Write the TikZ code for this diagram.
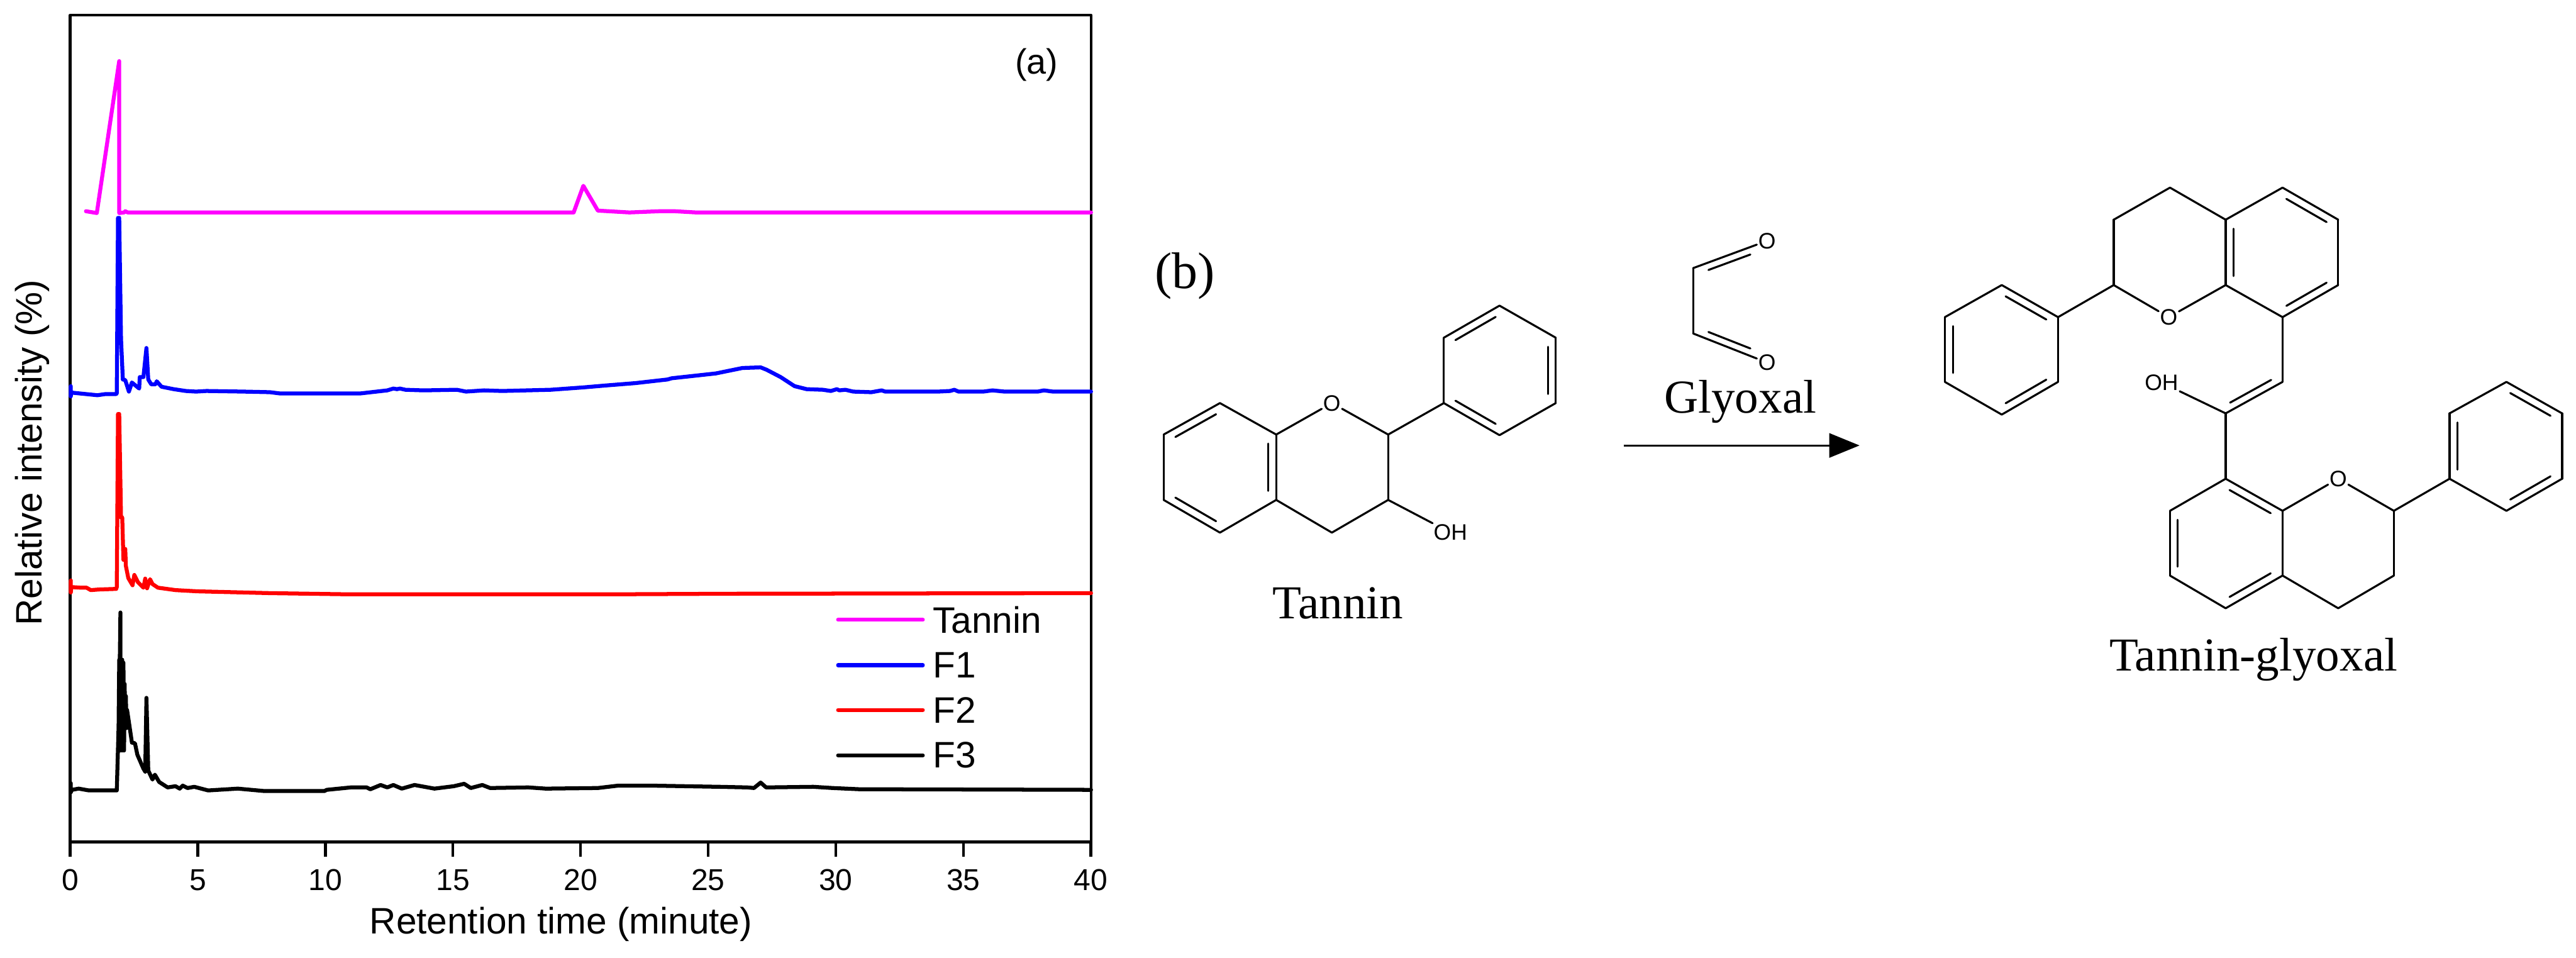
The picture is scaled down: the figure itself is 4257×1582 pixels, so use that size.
\documentclass[tikz,border=0pt]{standalone}
\usepackage{fontspec}
\usepackage{xcolor}
\usetikzlibrary{calc,arrows.meta}
\setmainfont{Liberation Serif}
\setsansfont{Liberation Sans}

\begin{document}
\begin{tikzpicture}[x=0.01cm,y=-0.01cm,
  curve/.style={line width=0.065cm,line join=round,line cap=round},
  axis/.style={line width=0.045cm,line join=round},
  bond/.style={line width=0.033cm,line join=round,line cap=round},
  atom/.style={font=\sffamily\fontsize{10.5}{12}\selectfont,inner sep=0.5pt},
  plotlabel/.style={font=\sffamily\fontsize{17.3}{20}\selectfont},
  ticklabel/.style={font=\sffamily\fontsize{14.2}{17}\selectfont,anchor=base},
  chemlabel/.style={font=\fontsize{22.2}{26}\selectfont,anchor=base}]
\definecolor{fuchsia}{HTML}{FF00FF}
\definecolor{fblue}{HTML}{0000FF}
\definecolor{fred}{HTML}{FF0000}
\definecolor{fblack}{HTML}{000000}
\useasboundingbox (0,0) rectangle (4257,1582);

\draw[axis] (116,25) rectangle (1803,1391);
\foreach \tk in {0,5,...,40}
  {\coordinate (t\tk) at (116+42.17*\tk,1391);
   \coordinate (e\tk) at (116+42.17*\tk,1416);
   \draw[axis] (t\tk) -- (e\tk);
   \node [ticklabel] (n\tk) at (116+42.17*\tk,1471) {\tk};}
\node [plotlabel,anchor=base] (xlab) at (927,1543) {Retention time (minute)};
\node [plotlabel,anchor=base,rotate=90] (ylab) at (69,748) {Relative intensity (\%)};
\node [plotlabel,font=\sffamily\fontsize{16.5}{19}\selectfont] (panela) at (1713,107) {(a)};

\draw[curve,fuchsia] plot coordinates {(142,349) (160,352) (197,101) (197,352) (205,351) (207,349) (211,351)
  (948,351) (964,307) (988,348) (1040,351) (1090,349) (1115,349) (1150,351) (1803,351)};
\draw[curve,fblue] plot coordinates {(117,638) (117,655) (118,648) (121,649) (161,653) (175,651) (192,651) (193,650)
  (195,360) (197,360) (200,560) (203,627) (207,628) (213,647) (218,632) (230,642) (231,623) (237,623)
  (242,575) (245,627) (250,635) (257,635) (259,630) (267,639) (287,643) (307,646) (324,647) (341,646) (402,647)
  (446,648) (462,650) (596,650) (640,645) (650,642) (656,643) (661,642) (670,644) (700,645) (755,644) (770,647)
  (800,645) (830,646) (910,644) (965,640) (1000,637) (1050,633) (1103,627) (1110,625) (1183,617) (1227,608)
  (1257,607) (1267,611) (1290,623) (1313,638) (1333,643) (1360,644) (1373,646) (1383,643) (1387,645) (1397,644)
  (1410,647) (1440,648) (1457,645) (1463,647) (1550,647) (1570,646) (1577,644) (1584,647) (1625,647) (1640,645)
  (1660,647) (1715,647) (1725,645) (1740,647) (1803,647)};
\draw[curve,fred] plot coordinates {(117,959) (117,979) (118,970) (134,971) (143,971) (150,975) (163,974) (192,973)
  (193,970) (195,684) (197,684) (200,855) (202,855) (204,925) (207,907) (208,935) (212,955) (219,967) (222,950)
  (228,962) (237,971) (240,956) (243,972) (248,957) (252,965) (261,971) (290,975) (326,977) (446,980) (580,982)
  (700,982) (1000,982) (1200,981) (1803,980)};
\draw[curve,fblack] plot coordinates {(117,1294) (117,1309) (119,1305) (130,1303) (147,1306) (193,1306) (196,1200)
  (197,1090) (197,1240) (198,1090) (199,1012) (199,1240) (200,1090) (201,1240) (202,1090) (203,1240) (204,1095)
  (205,1240) (206,1130) (207,1203) (208,1150) (209,1203) (210,1173) (213,1193)
  (218,1227) (223,1228) (227,1247) (237,1270) (240,1275) (242,1153) (245,1273) (252,1288) (256,1280) (263,1292)
  (277,1301) (290,1299) (297,1303) (302,1298) (310,1302) (321,1300) (344,1306) (393,1303) (437,1307) (536,1307)
  (540,1305) (580,1301) (606,1301) (612,1304) (629,1297) (640,1301) (650,1297) (664,1303) (685,1297) (718,1303)
  (750,1299) (767,1295) (778,1302) (797,1297) (810,1302) (873,1301) (902,1303) (988,1302) (1022,1298) (1074,1298)
  (1189,1300) (1235,1301) (1246,1302) (1257,1293) (1266,1301) (1344,1300) (1376,1302) (1420,1304) (1803,1305)};

\foreach \crlr/\lab/\pos in {fuchsia/Tannin/1024,fblue/F1/1099,fred/F2/1173,fblack/F3/1248}
  {\coordinate (l\pos) at (1385,\pos);
   \node [plotlabel,anchor=west,inner sep=0.16cm] (s\pos) at (1525,\pos) {\lab};
   \draw[curve,\crlr] (l\pos) -- (s\pos.west);}

\node [chemlabel,font=\fontsize{24.2}{28}\selectfont] (panelb) at (1958,477) {(b)};
\node [chemlabel] (tannin) at (2211,1022) {Tannin};
\node [chemlabel] (glyoxal) at (2876,682) {Glyoxal};
\node [chemlabel] (product) at (3724,1108) {Tannin-glyoxal};

\coordinate (rs) at (2683,736);
\coordinate (re) at (3073,736);
\draw[line width=0.033cm,-{Triangle[length=0.5cm,width=0.4cm]}] (rs) -- (re);

\foreach \atm/\x/\y in {a1/2016/666,a2/2109/718,a3/2109/826,a4/2016/880,a5/1923/826,a6/1923/718,
  a7/2294/718,a8/2294/826,a9/2201/880,
  p1/2386/666,p2/2386/558,p3/2478/505,p4/2571/558,p5/2571/666,p6/2478/719,
  ac/2016/772,pc/2478/612,
  g1/2798/443,g2/2798/551,gc/2889/498,
  b1/3308/471,b2/3401/524,b3/3401/631,b4/3308/685,b5/3214/631,b6/3214/524,bc/3308/578,
  c1/3493/471,c2/3493/363,c3/3586/310,c4/3678/363,c5/3678/471,
  d1/3772/310,d2/3864/363,d3/3864/471,d4/3772/524,dc/3772/417,
  v1/3772/631,v2/3678/683,vc/3684/582,
  e1/3678/791,e2/3772/844,e3/3772/951,e4/3678/1005,e5/3586/951,e6/3586/844,ec/3678/898,
  f1/3956/844,f2/3956/951,f3/3864/1005,
  h1/4048/791,h2/4048/683,h3/4142/631,h4/4234/683,h5/4234/791,h6/4142/844,hc/4142/737}
  {\coordinate (\atm) at (\x,\y);}
\node [atom] (o1) at (2201,666) {O};
\node [atom] (oh1) at (2397,880) {OH};
\node [atom] (o2) at (2920,398) {O};
\node [atom] (o3) at (2920,599) {O};
\node [atom] (o4) at (3584,524) {O};
\node [atom] (oh2) at (3572,632) {OH};
\node [atom] (o5) at (3864,791) {O};

\foreach \p/\q in {a1/a2,a2/a3,a3/a4,a4/a5,a5/a6,a6/a1,a2/o1,o1/a7,a7/a8,a8/a9,a9/a3,a8/oh1,a7/p1,
  p1/p2,p2/p3,p3/p4,p4/p5,p5/p6,p6/p1,o2/g1,g1/g2,g2/o3,
  b1/b2,b2/b3,b3/b4,b4/b5,b5/b6,b6/b1,b2/c1,c1/o4,o4/c5,c5/c4,c4/c3,c3/c2,c2/c1,
  c4/d1,d1/d2,d2/d3,d3/d4,d4/c5,d4/v1,v1/v2,v2/oh2,v2/e1,
  e1/e2,e2/e3,e3/e4,e4/e5,e5/e6,e6/e1,e2/o5,o5/f1,f1/f2,f2/f3,f3/e3,f1/h1,
  h1/h2,h2/h3,h3/h4,h4/h5,h5/h6,h6/h1}
  {\draw[bond] (\p) -- (\q);}
\foreach \p/\q/\r in {a1/a6/ac,a2/a3/ac,a4/a5/ac,p2/p3/pc,p4/p5/pc,p1/p6/pc,
  b1/b2/bc,b3/b4/bc,b5/b6/bc,c4/c5/dc,d1/d2/dc,d3/d4/dc,v1/v2/vc,
  e1/e2/ec,e3/e4/ec,e5/e6/ec,h1/h2/hc,h3/h4/hc,h5/h6/hc}
  {\draw[bond] ($(\p)!.08!(\q)!.14!(\r)$) -- ($(\q)!.08!(\p)!.14!(\r)$);}
\foreach \p/\q in {g1/o2,g2/o3}
  {\draw[bond] ($(\p)!.12!(\q)!.14!(gc)$) -- ($(\q)!.22!(\p)!.14!(gc)$);}
\end{tikzpicture}
\end{document}
